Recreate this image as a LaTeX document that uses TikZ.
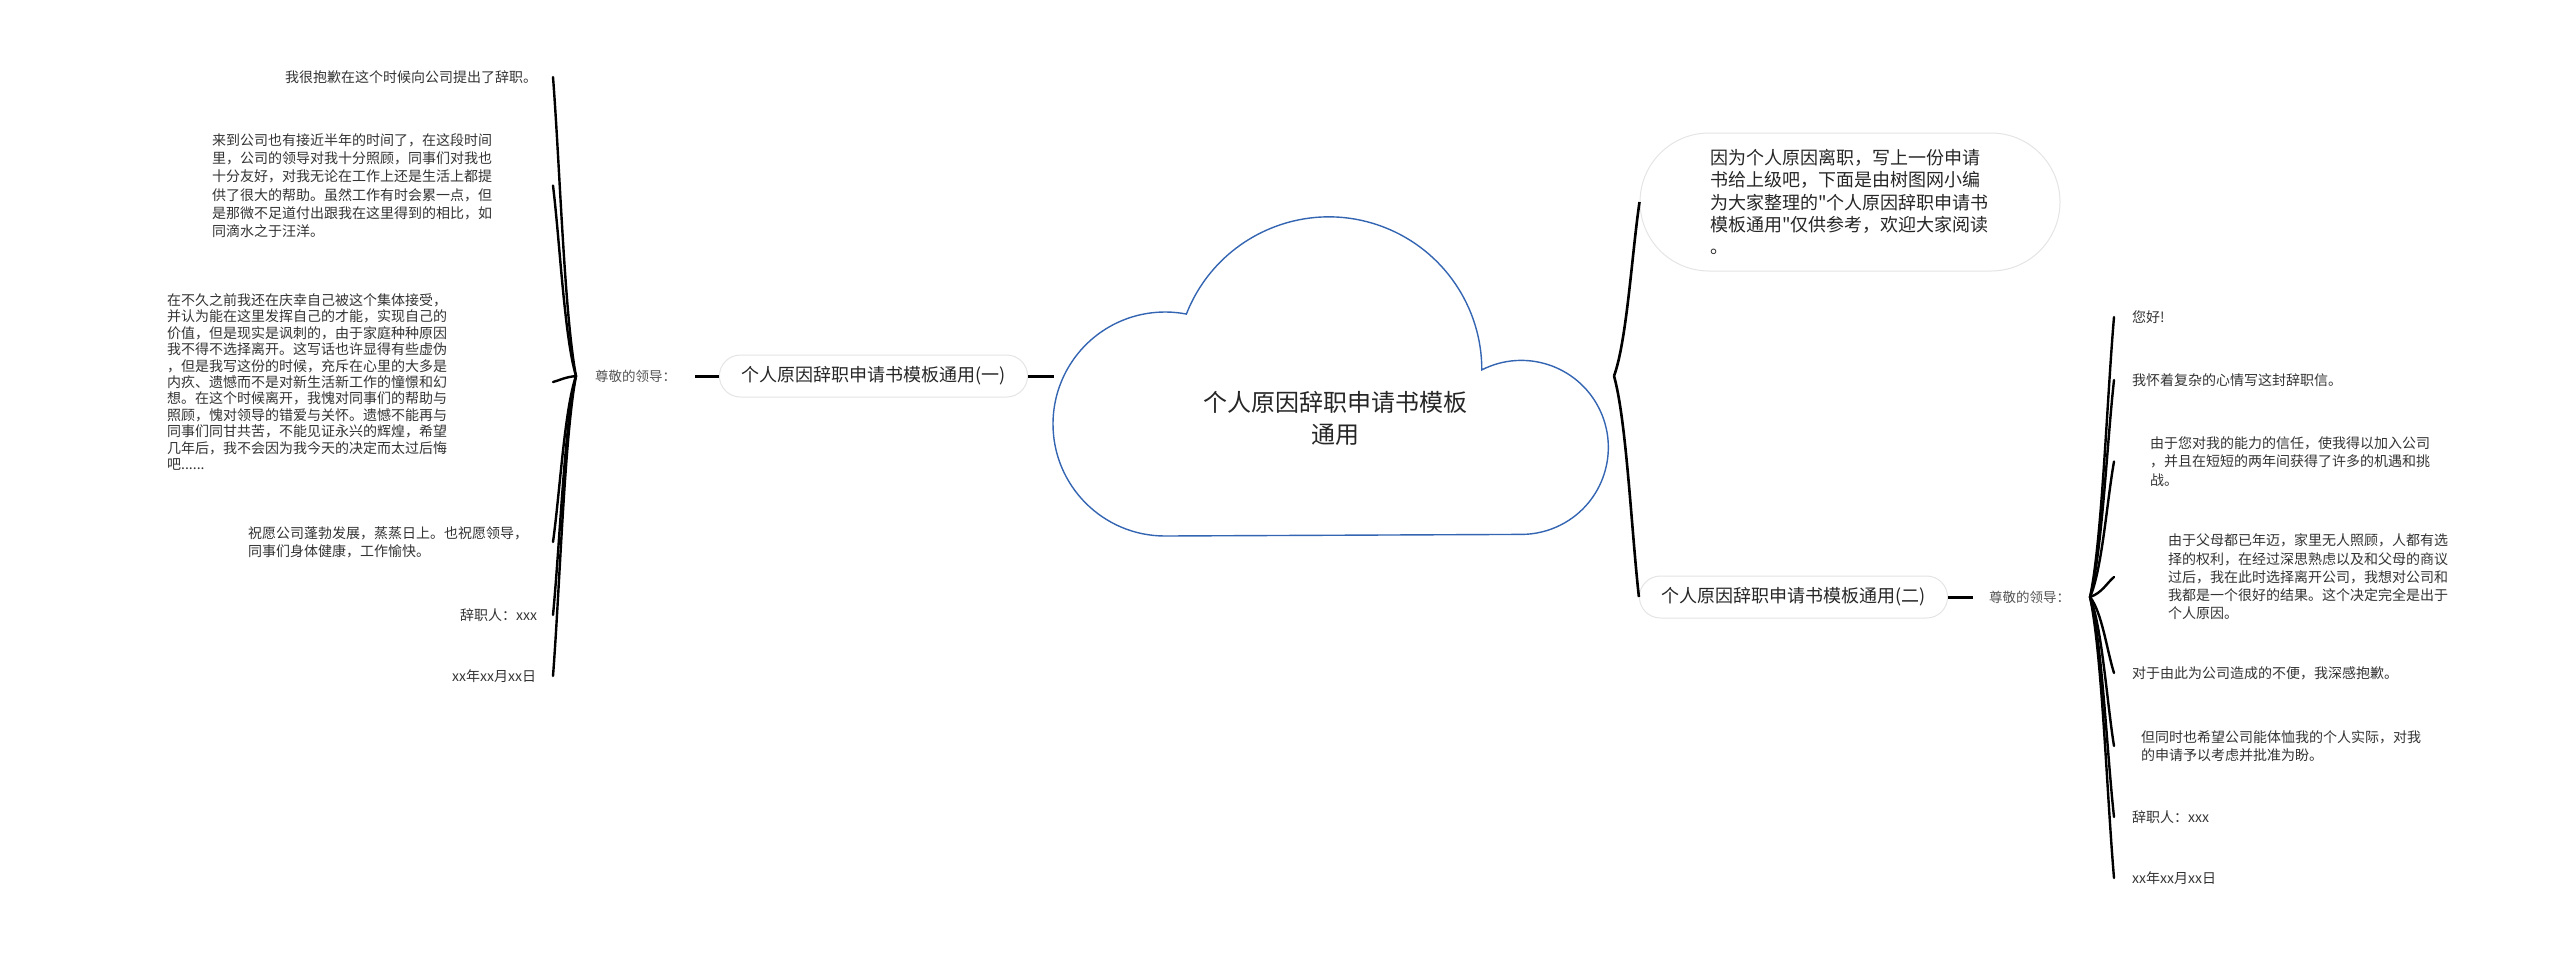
\documentclass[tikz,border=0pt]{standalone}
\usepackage{fontspec}
\setmainfont{Noto Sans CJK SC}
\newfontfamily\plaincjk{Noto Sans CJK SC}
\usetikzlibrary{calc}

\definecolor{cloudblue}{RGB}{52,101,178}
\definecolor{pillgray}{RGB}{228,228,228}
\definecolor{inkgray}{RGB}{51,51,51}
\definecolor{leadgray}{RGB}{85,85,85}

\begin{document}
\begin{tikzpicture}[x=1pt, y=-1pt,
    leaf/.style={
        anchor=west, inner sep=0pt, align=left, text=inkgray,
        font=\fontsize{14}{18.3}\selectfont
    },
    lead/.style={
        anchor=west, inner sep=0pt, text=leadgray,
        font=\fontsize{13.5}{16}\selectfont
    },
    topic/.style={
        draw=pillgray, line width=1pt, rounded corners=21pt,
        minimum height=42pt, inner xsep=22pt, text=black!85,
        font=\fontsize{18}{22}\selectfont
    },
    intro/.style={
        draw=pillgray, line width=1pt, rounded corners=69pt,
        minimum width=420pt, minimum height=138pt, text width=280pt,
        align=left, text=black!85, font=\plaincjk\fontsize{18}{22.3}\selectfont
    },
    link/.style={line width=3pt},
    twig/.style={line width=2.4pt, line cap=round},
    cloudline/.style={draw=cloudblue, line width=1.4pt, fill=white}
]
\useasboundingbox (0,0) rectangle (2560,954);

%% ---- Central cloud ----
\draw[cloudline] (1165,536)
    arc[start angle=-270, end angle=-79, radius=112]
    arc[start angle=-158.6, end angle=0, radius=153]
    arc[start angle=-117, end angle=90, radius=87] -- cycle;
\node[font=\fontsize{24}{32}\selectfont, align=center, text=black!85]
    at (1335,418) (root) {个人原因辞职申请书模板\\通用};

\coordinate (cloudW) at (1054,376);
\coordinate (mtip)   at (1614,376);

%% ---- Left branch (一) ----
\node[topic] at (873.5,376) (topic1) {个人原因辞职申请书模板通用(一)};
\node[lead]  at (595,376)   (lead1)  {尊敬的领导：};
\coordinate (ltip) at ([xshift=-19pt]lead1.west);
\coordinate (lcol) at (553,0);

\node[leaf] at (285,77)   (l1) {我很抱歉在这个时候向公司提出了辞职。};
\node[leaf] at (212,185.5) (l2) {来到公司也有接近半年的时间了，在这段时间\\里，公司的领导对我十分照顾，同事们对我也\\十分友好，对我无论在工作上还是生活上都提\\供了很大的帮助。虽然工作有时会累一点，但\\是那微不足道付出跟我在这里得到的相比，如\\同滴水之于汪洋。};
\node[leaf, font=\fontsize{14}{16.4}\selectfont] at (167,382) (l3) {在不久之前我还在庆幸自己被这个集体接受，\\并认为能在这里发挥自己的才能，实现自己的\\价值，但是现实是讽刺的，由于家庭种种原因\\我不得不选择离开。这写话也许显得有些虚伪\\，但是我写这份的时候，充斥在心里的大多是\\内疚、遗憾而不是对新生活新工作的憧憬和幻\\想。在这个时候离开，我愧对同事们的帮助与\\照顾，愧对领导的错爱与关怀。遗憾不能再与\\同事们同甘共苦，不能见证永兴的辉煌，希望\\几年后，我不会因为我今天的决定而太过后悔\\吧......};
\node[leaf] at (248,542)  (l4) {祝愿公司蓬勃发展，蒸蒸日上。也祝愿领导，\\同事们身体健康，工作愉快。};
\node[leaf] at (460,615)  (l5) {辞职人：xxx};
\node[leaf] at (452,676)  (l6) {xx年xx月xx日};

%% ---- Right branches ----
\node[intro] at (1850,202) (intro) {因为个人原因离职，写上一份申请\\书给上级吧，下面是由树图网小编\\为大家整理的"个人原因辞职申请书\\模板通用"仅供参考，欢迎大家阅读\\。};
\node[topic] at (1793.5,597) (topic2) {个人原因辞职申请书模板通用(二)};
\node[lead]  at (1989,597)   (lead2)  {尊敬的领导：};
\coordinate (rtip) at (2090,597);
\coordinate (rcol) at (2114,0);

\node[leaf] at (2132,317)   (r1) {您好!};
\node[leaf] at (2132,380)   (r2) {我怀着复杂的心情写这封辞职信。};
\node[leaf] at (2150,461.5) (r3) {由于您对我的能力的信任，使我得以加入公司\\，并且在短短的两年间获得了许多的机遇和挑\\战。};
\node[leaf] at (2168,577)   (r4) {由于父母都已年迈，家里无人照顾，人都有选\\择的权利，在经过深思熟虑以及和父母的商议\\过后，我在此时选择离开公司，我想对公司和\\我都是一个很好的结果。这个决定完全是出于\\个人原因。};
\node[leaf] at (2132,673)   (r5) {对于由此为公司造成的不便，我深感抱歉。};
\node[leaf] at (2141,746)   (r6) {但同时也希望公司能体恤我的个人实际，对我\\的申请予以考虑并批准为盼。};
\node[leaf] at (2132,817)   (r7) {辞职人：xxx};
\node[leaf] at (2132,878)   (r8) {xx年xx月xx日};

%% ---- Connectors ----

% topic (一) to cloud, lead label to topic (一)
\draw[link] (topic1.east) -- (cloudW);
\draw[link, shorten <=19pt] (lead1.east) -- (topic1.west);

% cloud bracket to intro and topic (二)
\foreach \c in {intro,topic2}
    \draw[link, line width=2.6pt] let \p1=(mtip), \p2=(\c.west) in (\p1)
        .. controls ({\x1+0.5*(\x2-\x1)}, {\y1+0.2*(\y2)-0.2*(\y1)})
        and ({\x1+0.7*(\x2-\x1)}, {\y1+0.7*(\y2)-0.7*(\y1)}) .. (\p2);

% topic (二) to lead label
\draw[link, shorten >=16pt] (topic2.east) -- (lead2.west);

% left brace
\foreach \c in {l1,l2,l3,l4,l5,l6}
    \draw[twig] let \p1=(ltip), \p2=(\c.east -| lcol) in (\p1)
        .. controls ({\x1+0.5*(\x2-\x1)}, {\y1+0.2*(\y2)-0.2*(\y1)})
        and ({\x1+0.7*(\x2-\x1)}, {\y1+0.7*(\y2)-0.7*(\y1)}) .. (\p2);

% right brace
\foreach \c in {r1,r2,r3,r4,r5,r6,r7,r8}
    \draw[twig] let \p1=(rtip), \p2=(\c.west -| rcol) in (\p1)
        .. controls ({\x1+0.5*(\x2-\x1)}, {\y1+0.2*(\y2)-0.2*(\y1)})
        and ({\x1+0.7*(\x2-\x1)}, {\y1+0.7*(\y2)-0.7*(\y1)}) .. (\p2);

\end{tikzpicture}
\end{document}
